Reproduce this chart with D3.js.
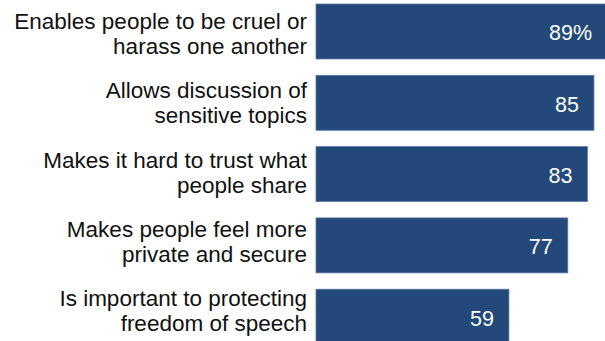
<!DOCTYPE html>
<html>
<head>
<meta charset="utf-8">
<script src="https://cdn.jsdelivr.net/npm/d3@7"></script>
<style>
  html, body { margin: 0; padding: 0; background: #fff; }
  svg { display: block; }
  text { font-family: "Liberation Sans", Arial, sans-serif; }
</style>
</head>
<body>
<svg id="chart" width="605" height="341"></svg>
<script>
// Share of respondents who say each statement describes anonymous online spaces
const labelLine1 = [
  "Enables people to be cruel or",
  "Allows discussion of",
  "Makes it hard to trust what",
  "Makes people feel more",
  "Is important to protecting"
];
const labelLine2 = [
  "harass one another",
  "sensitive topics",
  "people share",
  "private and secure",
  "freedom of speech"
];
const values = [89, 85, 83, 77, 59];
const valueText = ["89%", "85", "83", "77", "59"];

const svg = d3.select("#chart");

const x = d3.scaleLinear().domain([0, 100]).range([316, 643]);
const y = d3.scaleBand()
  .domain(d3.range(values.length))
  .range([4, 344.2])
  .paddingInner(0.229)
  .paddingOuter(0);
// category labels sit on a slightly tighter pitch than the bars
const yLabel = d3.scaleLinear().domain([0, values.length - 1]).range([29, 306]);

const rows = svg.selectAll("g.row")
  .data(values)
  .join("g")
  .attr("class", "row");

rows.append("rect")
  .attr("x", x(0))
  .attr("y", (d, i) => y(i))
  .attr("width", d => x(d) - x(0))
  .attr("height", y.bandwidth())
  .attr("fill", "#22497a")
  .attr("stroke", "#5b7aa3")
  .attr("stroke-width", 0.8);

rows.append("text")
  .attr("x", d => x(d) - 15)
  .attr("y", (d, i) => y(i) + y.bandwidth() / 2 + 9)
  .attr("text-anchor", "end")
  .attr("fill", "#ffffff")
  .attr("font-size", 21.5)
  .text((d, i) => valueText[i]);

const labels = rows.append("text")
  .attr("text-anchor", "end")
  .attr("fill", "#111")
  .attr("font-size", 22.5);

labels.append("tspan")
  .attr("x", 307)
  .attr("y", (d, i) => yLabel(i))
  .text((d, i) => labelLine1[i]);

labels.append("tspan")
  .attr("x", 307)
  .attr("y", (d, i) => yLabel(i) + 25)
  .text((d, i) => labelLine2[i]);
</script>
</body>
</html>
